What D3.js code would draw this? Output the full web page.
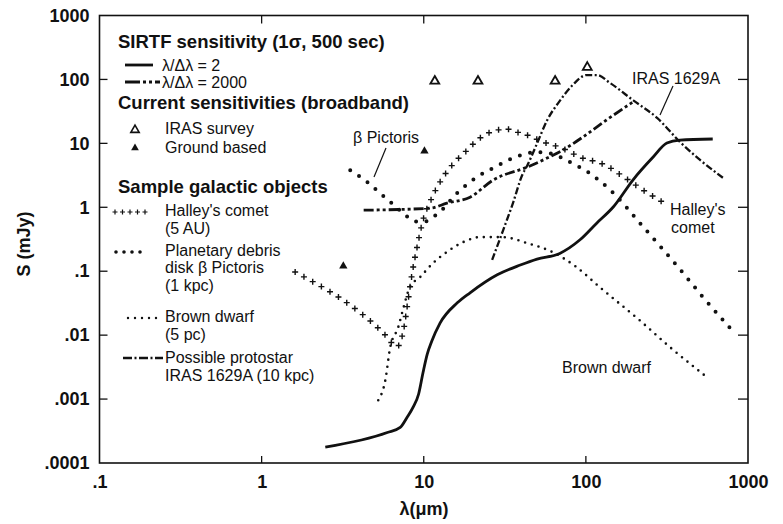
<!DOCTYPE html>
<html>
<head>
<meta charset="utf-8">
<script src="https://cdn.jsdelivr.net/npm/d3@7"></script>
<style>
body { margin: 0; background: #fff; }
svg text { font-family: "Liberation Sans", Arial, sans-serif; fill: #111; }
</style>
</head>
<body>
<svg></svg>
<script>
// [wavelength in um, flux in mJy]
let sirtfBroad = [[2.47,1.77e-4],[5.96,3.0e-4],[7.16,3.6e-4],[7.9,5.2e-4],[8.6,7.5e-4],[9.3,1.2e-3],[9.9,2.6e-3],[10.5,5e-3],[11.2,8e-3],[12.6,0.0154],[16.1,0.032],[19.3,0.046],[28.4,0.088],[39.4,0.125],[50,0.155],[69,0.19],[92,0.31],[117,0.57],[147,1.0],[195,2.67],[260,6.1],[316,10.1],[380,11.2],[606,11.7]]
let sirtfSpec = [[4.26,0.9],[11,0.97],[13.9,1.16],[19.3,1.44],[26.8,2.67],[43.5,4.26],[57.7,5.89],[72,7.85],[96,12.6],[134,23.2],[195,44.3]]
let irasSurvey = [[11.7,94],[21.6,94],[64.6,94],[102,155]]
let groundBased = [[3.19,0.12],[10.1,7.6]]
let halley = [[1.61,0.097],[5.96,0.0093],[6.8,0.0065],[7.5,0.012],[8.0,0.035],[8.6,0.115],[9.1,0.24],[9.9,0.63],[11.2,1.39],[12.6,2.48],[15,4.6],[18,7.3],[22.2,12.1],[28.3,16.1],[32.5,16.7],[37.6,15],[43.2,13.5],[54.5,10.5],[71.3,8.4],[92,6.1],[131,4.6],[174,2.9],[230,1.8],[298,1.2]]
let betaPic = [[3.52,3.8],[4.49,2.48],[5.55,1.55],[6.87,0.97],[7.7,0.755],[8.6,0.61],[9.9,0.59],[12.3,0.81],[16.3,1.73],[21.3,2.97],[27.5,4.26],[36.6,6.1],[50,7.3],[60,7.0],[79.6,5.1],[103,3.55],[150,1.61],[215,0.57],[294,0.23],[393,0.097],[529,0.039],[776,0.0129]]
let brownDwarf = [[5.24,9.6e-4],[5.8,0.002],[6.2,0.0063],[6.96,0.0133],[7.5,0.027],[8.2,0.056],[9.5,0.081],[11.4,0.134],[13.9,0.2],[17.5,0.285],[22.3,0.342],[30.5,0.342],[43.5,0.275],[62,0.2],[86,0.12],[122,0.056],[215,0.017],[330,0.0065],[558,0.0022]]
let protostar = [[26.4,0.15],[30.9,0.44],[35.5,1.16],[40.5,3.2],[43.5,4.5],[50,10],[57.7,23],[69.4,47],[83,82],[101,117],[117,117],[141,88],[196,47],[275,25],[381,10.5],[506,5.5],[700,2.9]]

let xTicks = [0.1, 1, 10, 100, 1000]
let xTickLabels = ['.1', '1', '10', '100', '1000']
let yTicks = [0.0001, 0.001, 0.01, 0.1, 1, 10, 100, 1000]
let yTickLabels = ['.0001', '.001', '.01', '.1', '1', '10', '100', '1000']

let width = 783
let height = 524
let padLeft = 99.5, padRight = 748, padTop = 15.5, padBottom = 463

let svg = d3.select('svg').attr('width', width).attr('height', height)

let xScale = d3.scaleLog().domain([0.1, 1000]).range([padLeft, padRight])
let yScale = d3.scaleLog().domain([0.0001, 1000]).range([padBottom, padTop])

let line = d3.line()
    .x(d => xScale(d[0]))
    .y(d => yScale(d[1]))
    .curve(d3.curveMonotoneX)

// frame + ticks
svg.append('rect')
    .attr('x', padLeft).attr('y', padTop)
    .attr('width', padRight - padLeft).attr('height', padBottom - padTop)
    .attr('fill', 'none').attr('stroke', '#111').attr('stroke-width', 1.6)

let xAxis = d3.axisBottom(xScale).tickValues(xTicks).tickFormat((d, i) => xTickLabels[i]).tickSize(0).tickPadding(12)
let gx = svg.append('g').attr('transform', 'translate(0,' + padBottom + ')').call(xAxis)
gx.select('.domain').remove()
gx.selectAll('text').attr('font-size', 18).attr('font-weight', 'bold')

let yAxis = d3.axisLeft(yScale).tickValues(yTicks).tickFormat((d, i) => yTickLabels[i]).tickSize(0).tickPadding(10)
let gy = svg.append('g').attr('transform', 'translate(' + padLeft + ',0)').call(yAxis)
gy.select('.domain').remove()
gy.selectAll('text').attr('font-size', 18).attr('font-weight', 'bold')

// inward ticks on all four sides
svg.append('g').selectAll('line').data(yTicks.slice(1, -1)).enter().append('line')
    .attr('x1', padLeft).attr('x2', padLeft + 8)
    .attr('y1', d => yScale(d)).attr('y2', d => yScale(d))
    .attr('stroke', '#111').attr('stroke-width', 1.3)
svg.append('g').selectAll('line').data(yTicks.slice(1, -1)).enter().append('line')
    .attr('x1', padRight - 10).attr('x2', padRight)
    .attr('y1', d => yScale(d)).attr('y2', d => yScale(d))
    .attr('stroke', '#111').attr('stroke-width', 1.3)
svg.append('g').selectAll('line').data(xTicks.slice(1, -1)).enter().append('line')
    .attr('y1', padBottom).attr('y2', padBottom - 7)
    .attr('x1', d => xScale(d)).attr('x2', d => xScale(d))
    .attr('stroke', '#111').attr('stroke-width', 1.3)
svg.append('g').selectAll('line').data(xTicks.slice(1, -1)).enter().append('line')
    .attr('y1', padTop).attr('y2', padTop + 8)
    .attr('x1', d => xScale(d)).attr('x2', d => xScale(d))
    .attr('stroke', '#111').attr('stroke-width', 1.3)

svg.append('text')
    .attr('x', 424).attr('y', 515)
    .attr('text-anchor', 'middle')
    .attr('font-size', 18).attr('font-weight', 'bold')
    .text('λ(μm)')

svg.append('text')
    .attr('transform', 'translate(30,244) rotate(-90)')
    .attr('text-anchor', 'middle')
    .attr('font-size', 18).attr('font-weight', 'bold')
    .text('S (mJy)')

// curves
svg.append('path').datum(sirtfBroad)
    .attr('d', line).attr('fill', 'none')
    .attr('stroke', '#111').attr('stroke-width', 2.8)

svg.append('path').datum(sirtfSpec)
    .attr('d', line).attr('fill', 'none')
    .attr('stroke', '#111').attr('stroke-width', 2.8)
    .attr('stroke-dasharray', '10,3,3,3,3,3')

svg.append('path').datum(protostar)
    .attr('d', line).attr('fill', 'none')
    .attr('stroke', '#111').attr('stroke-width', 2.3)
    .attr('stroke-dasharray', '7,2.5,2,2.5')

svg.append('path').datum(betaPic)
    .attr('d', line).attr('fill', 'none')
    .attr('stroke', '#111').attr('stroke-width', 4)
    .attr('stroke-linecap', 'round')
    .attr('stroke-dasharray', '0,10.5')

svg.append('path').datum(brownDwarf)
    .attr('d', line).attr('fill', 'none')
    .attr('stroke', '#111').attr('stroke-width', 2.6)
    .attr('stroke-linecap', 'round')
    .attr('stroke-dasharray', '0,7')

// Halley's comet: crosses spaced along the curve
let halleyPath = svg.append('path').datum(halley)
    .attr('d', line).attr('fill', 'none').attr('stroke', 'none')
let hLen = halleyPath.node().getTotalLength()
let crossPts = d3.range(0, hLen, 10).map(l => halleyPath.node().getPointAtLength(l))
svg.append('g').selectAll('path').data(crossPts).enter().append('path')
    .attr('d', p => 'M' + (p.x - 3) + ',' + p.y + 'h6M' + p.x + ',' + (p.y - 3) + 'v6')
    .attr('stroke', '#111').attr('stroke-width', 1.4)

// broadband sensitivities
let tri = d3.symbol().type(d3.symbolTriangle)
svg.append('g').selectAll('path').data(irasSurvey).enter().append('path')
    .attr('d', tri.size(34))
    .attr('transform', d => 'translate(' + xScale(d[0]) + ',' + yScale(d[1]) + ')')
    .attr('fill', 'none').attr('stroke', '#111').attr('stroke-width', 1.8)
svg.append('g').selectAll('path').data(groundBased).enter().append('path')
    .attr('d', tri.size(30))
    .attr('transform', d => 'translate(' + xScale(d[0]) + ',' + yScale(d[1]) + ')')
    .attr('fill', '#111')

// curve labels
let label = (x, y, t) => svg.append('text').attr('x', x).attr('y', y).attr('font-size', 16).text(t)
label(353, 143, 'β Pictoris')
svg.append('line').attr('x1', 386).attr('y1', 148).attr('x2', 374).attr('y2', 177).attr('stroke', '#111').attr('stroke-width', 1.2)
label(632, 84, 'IRAS 1629A')
svg.append('line').attr('x1', 673).attr('y1', 86).attr('x2', 660).attr('y2', 115).attr('stroke', '#111').attr('stroke-width', 1.2)
label(670, 215, "Halley's")
label(671, 233, 'comet')
label(562, 373, 'Brown dwarf')

// legend
let bold = (x, y, t) => svg.append('text').attr('x', x).attr('y', y).attr('font-size', 18.5).attr('font-weight', 'bold').text(t)
bold(118, 48, 'SIRTF sensitivity (1σ, 500 sec)')
svg.append('line').attr('x1', 125).attr('x2', 153).attr('y1', 65).attr('y2', 65).attr('stroke', '#111').attr('stroke-width', 2.8)
label(162, 71, 'λ/Δλ = 2')
svg.append('line').attr('x1', 125).attr('x2', 160).attr('y1', 82).attr('y2', 82).attr('stroke', '#111').attr('stroke-width', 2.8).attr('stroke-dasharray', '15,3,3,3,3,3')
label(162, 88, 'λ/Δλ = 2000')
bold(118, 109, 'Current sensitivities (broadband)')
svg.append('path').attr('d', tri.size(30)).attr('transform', 'translate(135,130)').attr('fill', 'none').attr('stroke', '#111').attr('stroke-width', 1.6)
label(165, 134, 'IRAS survey')
svg.append('path').attr('d', tri.size(26)).attr('transform', 'translate(135,148)').attr('fill', '#111')
label(165, 153, 'Ground based')
bold(118, 193, 'Sample galactic objects')

let legendCross = svg.append('g')
d3.range(5).forEach(i => {
    let cx = 115 + i * 7.5
    legendCross.append('path').attr('d', 'M' + (cx - 2.5) + ',212h5M' + cx + ',209.5v5').attr('stroke', '#111').attr('stroke-width', 1.2)
})
label(165, 216, "Halley's comet")
label(165, 234, '(5 AU)')
svg.append('line').attr('x1', 116).attr('x2', 148).attr('y1', 252).attr('y2', 252).attr('stroke', '#111').attr('stroke-width', 3.6).attr('stroke-linecap', 'round').attr('stroke-dasharray', '0,8')
label(165, 256, 'Planetary debris')
label(165, 273, 'disk β Pictoris')
label(165, 291, '(1 kpc)')
svg.append('line').attr('x1', 128).attr('x2', 157).attr('y1', 318).attr('y2', 318).attr('stroke', '#111').attr('stroke-width', 2.4).attr('stroke-linecap', 'round').attr('stroke-dasharray', '0,7')
label(165, 322, 'Brown dwarf')
label(165, 340, '(5 pc)')
svg.append('line').attr('x1', 123).attr('x2', 163).attr('y1', 358).attr('y2', 358).attr('stroke', '#111').attr('stroke-width', 2.3).attr('stroke-dasharray', '9,2.5,2,2.5')
label(165, 363, 'Possible protostar')
label(165, 381, 'IRAS 1629A (10 kpc)')
</script>
</body>
</html>
